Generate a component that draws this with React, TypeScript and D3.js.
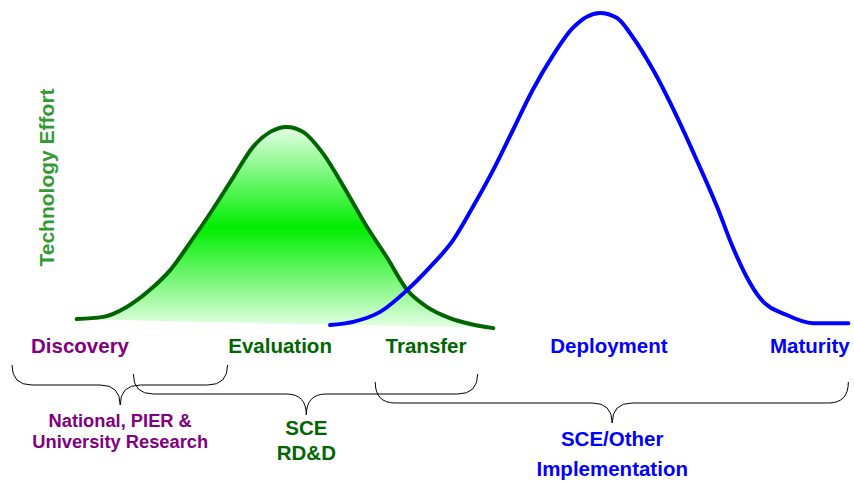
import React from "react";
import * as d3 from "d3";

// effort curves, x = stage progress (0..100), y = technology effort (0..100)
const rdProgress = [5.7, 8.9, 11.8, 14.6, 17.1, 19.5, 22.0, 24.8, 27.2, 29.3, 31.3, 33.3, 35.7, 38.7, 41.1, 43.5, 46.0, 48.4, 51.2, 53.7, 56.5];
const rdEffort = [1.9, 2.6, 5.8, 11.2, 17.6, 26.3, 35.9, 47.4, 57.1, 61.9, 63.5, 61.9, 55.1, 42.3, 31.4, 21.8, 11.2, 5.8, 2.2, 0.3, -1.0];

const implProgress = [36.6, 39.4, 42.7, 46.0, 48.8, 51.6, 54.0, 56.5, 58.9, 61.3, 63.8, 66.2, 69.5, 71.6, 73.5, 76.0, 78.9, 81.3, 83.8, 85.7, 87.4, 89.0, 92.3, 95.5, 98.4, 99.8];
const implEffort = [0, 1.0, 4.2, 11.2, 18.6, 27.2, 37.8, 49.7, 62.5, 75.3, 86.5, 95.2, 100, 98.4, 92.3, 81.7, 66.7, 52.9, 37.8, 25.0, 15.4, 8.7, 3.2, 0.6, 0.6, 0.6];

const stageNames = ["Discovery", "Evaluation", "Transfer", "Deployment", "Maturity"];
const stagePos = [6.1, 30.5, 48.3, 70.6, 95.1];
const stageColors = ["#800080", "#006600", "#006600", "#0000ff", "#0000ff"];

const groupLines = [["National, PIER &", "University Research"], ["SCE", "RD&D"], ["SCE/Other", "Implementation"]];
const groupStart = [-2.2, 12.6, 42.1];
const groupEnd = [24.1, 54.6, 99.8];
const groupCusp = [11.0, 33.7, 71.0];
const groupColors = ["#800080", "#006600", "#0000ff"];

const W = 854;
const H = 483;
const FONT = "'Liberation Sans', Arial, sans-serif";

const x = d3.scaleLinear().domain([0, 100]).range([30, 850]);
const y = d3.scaleLinear().domain([0, 100]).range([325, 13]);

function curvePath(px: number[], py: number[]) {
  const pts = px.map((v, i) => [x(v), y(py[i])] as [number, number]);
  return d3.line().curve(d3.curveMonotoneX)(pts) as string;
}

// curly brace, ends at yTop, flat at yMid, tip at yTip
function brace(x0: number, x1: number, xm: number, yTop: number, yMid: number, yTip: number) {
  const r = 20;
  const p = d3.path();
  p.moveTo(x0, yTop);
  p.quadraticCurveTo(x0, yMid, x0 + r, yMid);
  p.lineTo(xm - r, yMid);
  p.quadraticCurveTo(xm, yMid, xm, yTip);
  p.quadraticCurveTo(xm, yMid, xm + r, yMid);
  p.lineTo(x1 - r, yMid);
  p.quadraticCurveTo(x1, yMid, x1, yTop);
  return p.toString();
}

const braceY = [
  [365, 385, 405],
  [374, 394, 415],
  [382, 403, 423],
];
const labelY = [
  [427, 448, 18.3],
  [435, 460, 20.5],
  [446, 476, 20.5],
];

export default function App() {
  const rd = curvePath(rdProgress, rdEffort);
  const impl = curvePath(implProgress, implEffort);

  return (
    <div style={{ position: "absolute", left: 0, top: 0 }}>
      <svg width={W} height={H} style={{ display: "block", background: "#fff" }} fontFamily={FONT}>
        <defs>
          <linearGradient id="rdFill" gradientUnits="userSpaceOnUse" x1="0" y1={y(63.5)} x2="0" y2={y(-1)}>
            <stop offset="0" stopColor="#e6ffe6" />
            <stop offset="0.5" stopColor="#00ee00" />
            <stop offset="1" stopColor="#e6ffe6" />
          </linearGradient>
        </defs>

        <path d={rd + "Z"} fill="url(#rdFill)" stroke="none" />
        <path d={rd} fill="none" stroke="#006400" strokeWidth={4} strokeLinecap="round" />
        <path d={impl} fill="none" stroke="#0000ff" strokeWidth={4} strokeLinecap="round" />

        <text
          transform="translate(54,177.5) rotate(-90)"
          textAnchor="middle"
          fontWeight="bold"
          fontSize={21}
          fill="#339933"
        >
          Technology Effort
        </text>

        {stageNames.map((s, i) => (
          <text key={s} x={x(stagePos[i])} y={353} textAnchor="middle" fontWeight="bold" fontSize={20.5} fill={stageColors[i]}>
            {s}
          </text>
        ))}

        {groupLines.map((g, i) => (
          <g key={i}>
            <path
              d={brace(x(groupStart[i]), x(groupEnd[i]), x(groupCusp[i]), braceY[i][0], braceY[i][1], braceY[i][2])}
              fill="none"
              stroke="#000"
              strokeWidth={1}
            />
            {g.map((t, j) => (
              <text
                key={t}
                x={x(groupCusp[i])}
                y={labelY[i][j]}
                textAnchor="middle"
                fontWeight="bold"
                fontSize={labelY[i][2]}
                fill={groupColors[i]}
              >
                {t}
              </text>
            ))}
          </g>
        ))}
      </svg>
    </div>
  );
}
